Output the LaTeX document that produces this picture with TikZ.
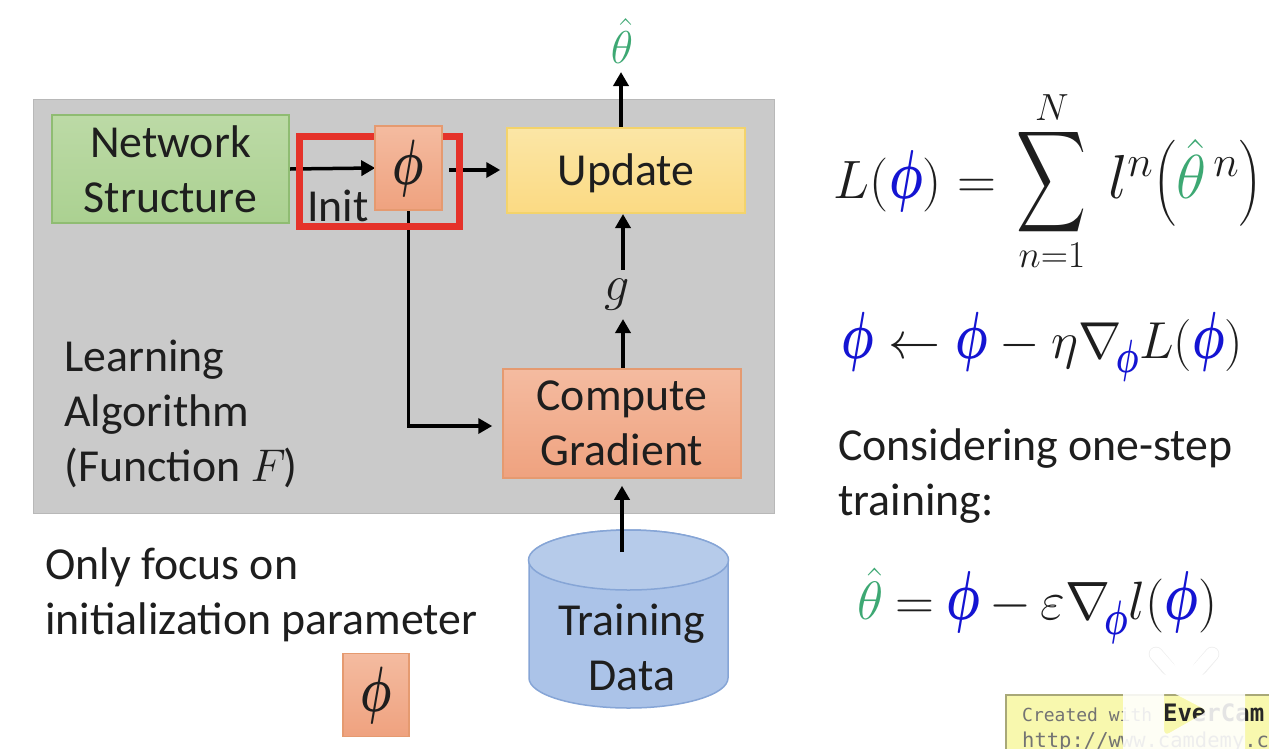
\RequirePackage{fix-cm}
\documentclass[tikz,border=0pt]{standalone}
\usepackage{amsmath}
\usepackage{exscale}
\usepackage{fontspec}
\setmainfont{Carlito}
\newfontfamily\monowm{DejaVu Sans Mono}
\usetikzlibrary{arrows.meta,shapes.geometric,backgrounds}
\pgfdeclarelayer{panel}
\pgfdeclarelayer{wires}
\pgfdeclarelayer{frame}
\pgfsetlayers{panel,wires,frame,main}
\definecolor{phiblue}{HTML}{1414D2}
\definecolor{hatgreen}{HTML}{3DA873}
\definecolor{inkc}{HTML}{1E1E1E}
\definecolor{HTMLgreen}{HTML}{8FBC72}
\definecolor{HTMLgreenA}{HTML}{BCDAA6}
\definecolor{HTMLgreenB}{HTML}{ABD191}
\definecolor{HTMLorange}{HTML}{E59A70}
\definecolor{HTMLorangeA}{HTML}{F4BBA0}
\definecolor{HTMLorangeB}{HTML}{EFA27F}
\definecolor{HTMLyellow}{HTML}{F3D36B}
\definecolor{HTMLyellowA}{HTML}{FBE6A6}
\definecolor{HTMLyellowB}{HTML}{FBDA83}
\definecolor{HTMLpanel}{HTML}{CACACA}
\definecolor{HTMLcyl}{HTML}{86A5D6}
\definecolor{HTMLcylA}{HTML}{ABC3E8}
\definecolor{HTMLcylB}{HTML}{B6CBEA}
\definecolor{HTMLred}{HTML}{E5322A}
\definecolor{HTMLbadge}{HTML}{F8F8AE}
\definecolor{HTMLbadgeline}{HTML}{A8A878}
% tall phi, in full size and in subscript size
\newcommand{\tallphi}{\scalebox{.88}[1.28]{\mathversion{bold}$\phi$}}
\newcommand{\bphi}{\textcolor{phiblue}{\tallphi}}
\newcommand{\sbphi}{\textcolor{phiblue}{\scalebox{.88}[1.28]{\mathversion{bold}$\scriptstyle\phi$}}}
\newcommand{\hth}{\textcolor{hatgreen}{\hat{\theta}}}
\newcommand{\bigsum}{\mathop{\vcenter{\hbox{\scalebox{1.95}[2.85]{$\displaystyle\sum$}}}}\limits}
\tikzset{
  x=1pt,y=-1pt,
  txt/.style={font=\fontsize{45.8}{55}\selectfont,text=inkc,align=center},
  txtl/.style={font=\fontsize{45.8}{55}\selectfont,text=inkc,align=left,anchor=west},
  eqn/.style={font=\fontsize{54}{60}\selectfont,text=inkc,inner sep=0pt},
  blockbox/.style={draw,line width=1.5pt,inner sep=0pt,txt},
  greenbox/.style={blockbox,draw=HTMLgreen,top color=HTMLgreenA,bottom color=HTMLgreenB},
  orangebox/.style={blockbox,draw=HTMLorange,top color=HTMLorangeA,bottom color=HTMLorangeB},
  yellowbox/.style={blockbox,draw=HTMLyellow,top color=HTMLyellowA,bottom color=HTMLyellowB},
  flow/.style={line width=3.5pt,-{Triangle[length=14pt,width=15pt]},draw=black},
}
\begin{document}
\begin{tikzpicture}
\useasboundingbox (0,0) rectangle (1269,748);

% page, algorithm panel and the data store under the arrows
\begin{pgfonlayer}{panel}
  \fill[white] (0,0) rectangle (1269,748);
  \node[fill=HTMLpanel,draw=black!28,line width=1pt,minimum width=741pt,minimum height=414pt,inner sep=0pt] (panel) at (403.5,306) {};
  \filldraw[fill=HTMLcylA,draw=HTMLcyl,line width=1.5pt]
    (529,560) -- (529,678) arc[start angle=180,end angle=360,x radius=99.5pt,y radius=30pt]
    -- (728,560) arc[start angle=0,end angle=180,x radius=99.5pt,y radius=30pt] -- cycle;
  \filldraw[fill=HTMLcylB,draw=HTMLcyl,line width=1.5pt]
    (528.5,560) arc[start angle=180,end angle=-180,x radius=100pt,y radius=30pt] -- cycle;
\end{pgfonlayer}

% blocks
\node[greenbox,minimum width=237pt,minimum height=108pt] (net) at (170.5,169) {Network\\Structure};
\node[orangebox,minimum width=67pt,minimum height=84pt,font=\fontsize{50}{60}\selectfont] (phi) at (408.5,168) {$\tallphi$};
\node[yellowbox,minimum width=238pt,minimum height=85pt,text height=32pt,text depth=3pt] (update) at (626,170.5) {Update};
\node[orangebox,minimum width=238pt,minimum height=109pt] (grad) at (622,423.5) {Compute\\Gradient};
\node[txt,inner sep=0pt,font=\fontsize{50}{50}\selectfont] (g) at (617,295) {$g$};
\node[inner sep=0pt,font=\fontsize{46}{48}\selectfont] (out) at (622,41) {$\hth$};
\node[txt,inner sep=0pt] (data) at (632,647) {Training\\Data};

% selected initialization
\begin{pgfonlayer}{frame}
  \node[draw=HTMLred,line width=7pt,minimum width=160pt,minimum height=90pt,inner sep=0pt] (initbox) at (379.5,181.5) {};
\end{pgfonlayer}
\node[txt,inner sep=0pt] (init) at (338,206) {Init};

% connectors
\coordinate (gradleft) at (409,426);
\coordinate (datain) at (622,552);
\coordinate (gradtop) at (623,369);
\coordinate (upbottom) at (623,213);
\coordinate (uptop) at (621,128);
\coordinate (phiout) at (449,170);
\coordinate (outfoot) at (621,72);
\coordinate (gtop) at (623,270);
\coordinate (gbot) at (623,319);
\begin{pgfonlayer}{wires}
  \draw[flow,shorten >=-1pt] (net.east) -- (phi.west);
  \draw[flow,shorten >=6pt] (phiout) -- (update.west |- phiout);
  \draw[flow] (phi.south) |- ([xshift=-10pt]grad.west |- gradleft);
  \draw[flow] (uptop) -- (outfoot);
  \draw[flow,shorten >=1pt] (gtop) -- (upbottom);
  \draw[flow] (gradtop) -- (gbot);
  \draw[flow,shorten >=7pt] (datain) -- (grad.south -| datain);
\end{pgfonlayer}

% captions
\node[txtl,inner sep=0pt] (algo) at (64,413.5) {Learning\\Algorithm\\(Function $F$\hspace{-2pt})};
\node[txtl,inner sep=0pt] (focus) at (45,594.5) {Only focus on\\initialization parameter};
\node[orangebox,minimum width=66pt,minimum height=83pt,font=\fontsize{50}{60}\selectfont] (phikey) at (376,695) {$\tallphi$};

% equations
\node[eqn] (eqa) at (1048,181) {$\displaystyle \raisebox{-3pt}{$L(\bphi)=$}\mkern4mu\bigsum_{n=1}^{N}\mkern4mu\raisebox{-3pt}{\scalebox{1.15}{$l^{n}\!\left(\hth^{\,n}\right)$}}$};
\node[eqn,font=\fontsize{52}{60}\selectfont] (eqb) at (1042.5,347) {$\bphi\leftarrow\bphi-\eta\nabla_{\!\sbphi}L(\bphi)$};
\node[txtl,inner sep=0pt] (note) at (838,476) {Considering one-step\\training:};
\node[eqn] (eqc) at (1037.5,606) {$\hth\mkern-1mu=\mkern-1mu\bphi\mkern-1mu-\mkern-1mu\varepsilon\nabla_{\!\sbphi}l(\bphi)$};

% screen-recorder badge, cut off by the page edge
\begin{scope}
  \clip (0,0) rectangle (1269,748);
  \fill[HTMLbadge,draw=HTMLbadgeline,line width=1.5pt] (1006,695) rectangle (1290,760);
  \node[anchor=base west,inner sep=0pt,text=black!55,font=\monowm\fontsize{18}{20}\selectfont] (ev1) at (1022,721) {Created with \textcolor{black!85}{\bfseries\fontsize{24}{24}\selectfont EverCam}};
  \node[anchor=base west,inner sep=0pt,text=black!55,font=\monowm\fontsize{20.5}{22}\selectfont] (ev2) at (1022,747) {http://www.camdemy.com};
  % player logo over the badge, with a see-through play mark
  \fill[white,fill opacity=.88,even odd rule,rounded corners=24pt]
    (1123,662) -- (1245,662) -- (1245,790) -- (1123,790) -- cycle
    {[rounded corners=6pt] (1164,688) -- (1208,711) -- (1164,736) -- cycle};
  \draw[black!7,line width=14.5pt,line cap=round] (1156,654) -- (1168,668);
  \draw[black!7,line width=14.5pt,line cap=round] (1212,654) -- (1200,668);
  \draw[white,line width=13pt,line cap=round] (1156,654) -- (1172,672);
  \draw[white,line width=13pt,line cap=round] (1212,654) -- (1196,672);
\end{scope}
\end{tikzpicture}
\end{document}
